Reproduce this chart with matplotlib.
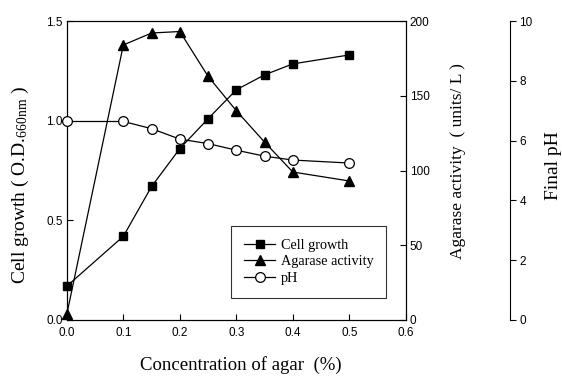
import matplotlib
matplotlib.use("Agg")
import matplotlib.pyplot as plt

# agar concentration (%)
conc = [0.0, 0.1, 0.15, 0.2, 0.25, 0.3, 0.35, 0.4, 0.5]
# readings taken off the figure
cell_growth = [0.17, 0.42, 0.67, 0.86, 1.01, 1.155, 1.23, 1.285, 1.33]
agarase = [4, 184, 192, 193, 163, 140, 119, 99, 93]
final_ph = [6.64, 6.64, 6.4, 6.05, 5.9, 5.68, 5.48, 5.35, 5.25]

x_ticks = [0.0, 0.1, 0.2, 0.3, 0.4, 0.5, 0.6]
left_ticks = [0.0, 0.5, 1.0, 1.5]
right_ticks = [0, 50, 100, 150, 200]
ph_ticks = [0, 2, 4, 6, 8, 10]

serif = "Liberation Serif"
sans = "Liberation Sans"
plt.rcParams["mathtext.default"] = "regular"
plt.rcParams["font.family"] = sans

fig = plt.figure(figsize=(5.62, 3.76), dpi=100)
ax = fig.add_axes([0.119, 0.149, 0.603, 0.795])
ax2 = ax.twinx()
ax3 = ax.twinx()

l1, = ax.plot(conc, cell_growth, color="black", lw=0.9, marker="s", ms=6,
              mfc="black", mec="black", clip_on=False, zorder=3)
l2, = ax2.plot(conc, agarase, color="black", lw=0.9, marker="^", ms=6.5,
               mfc="black", mec="black", clip_on=False, zorder=3)
l3, = ax3.plot(conc, final_ph, color="black", lw=0.9, marker="o", ms=7,
               mfc="white", mec="black", mew=0.9, clip_on=False, zorder=3)

ax.set_xlim(0, 0.6)
ax.set_ylim(0, 1.5)
ax2.set_ylim(0, 200)
ax3.set_ylim(0, 10)

ax.set_xticks(x_ticks)
ax.set_xticklabels([f"{t:.1f}" for t in x_ticks])
ax.set_yticks(left_ticks)
ax.set_yticklabels([f"{t:.1f}" for t in left_ticks])
ax2.set_yticks(right_ticks)
ax3.set_yticks(ph_ticks)

for a in (ax, ax2):
    a.tick_params(direction="in", length=4, width=0.8, labelsize=8.5, pad=3)
    for s in a.spines.values():
        s.set_linewidth(0.8)
ax.tick_params(axis="x", pad=5)

# pH axis sits well to the right of the plot
for name in ("left", "top", "bottom"):
    ax3.spines[name].set_visible(False)
ax3.spines["right"].set_position(("axes", 1.307))
ax3.spines["right"].set_linewidth(0.8)
ax3.tick_params(direction="out", length=4, width=0.8, labelsize=8.5, pad=3)

ax.set_xlabel("Concentration of agar  (%)", family=serif, fontsize=13.5)
ax.set_ylabel("Cell growth ( O.D.$_{660nm}$ )", family=serif, fontsize=14)
ax2.set_ylabel("Agarase activity  ( units/ L )", family=serif, fontsize=12.5)
ax3.set_ylabel("Final pH", family=serif, fontsize=14)
ax.xaxis.set_label_coords(0.513, -0.122)
ax.yaxis.set_label_coords(-0.107, 0.45)
ax2.yaxis.set_label_coords(1.13, 0.532)
ax3.yaxis.set_label_coords(1.41, 0.518)

leg = ax.legend([l1, l2, l3], ["Cell growth", "Agarase activity", "pH"],
                loc="lower left", bbox_to_anchor=(0.484, 0.074), borderaxespad=0,
                prop={"family": serif, "size": 10.3}, frameon=True, fancybox=False,
                edgecolor="black", handlelength=2.2, borderpad=0.9,
                labelspacing=0.25, handletextpad=0.4)
leg.get_frame().set_linewidth(0.8)
leg.set_zorder(5)

fig.savefig("out.png", dpi=100)
